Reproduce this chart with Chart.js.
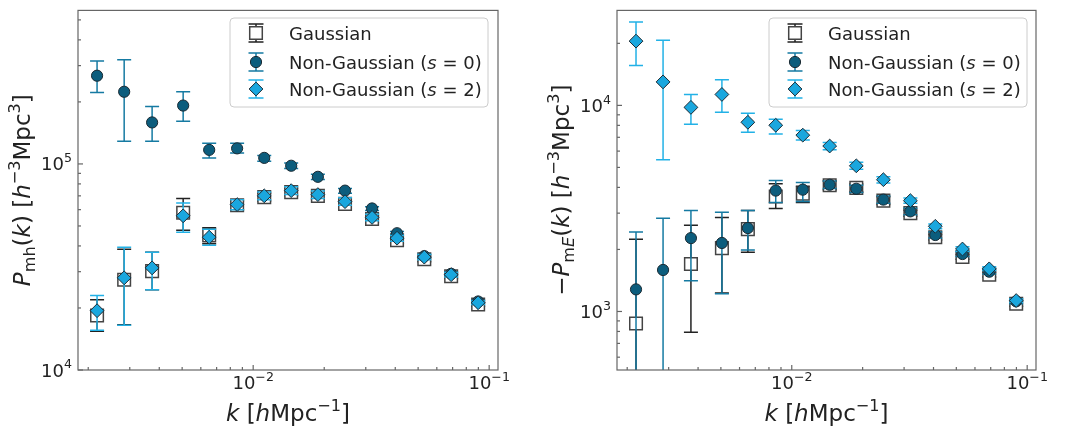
<!DOCTYPE html>
<html>
<head>
<meta charset="utf-8">
<script src="https://cdn.jsdelivr.net/npm/chart.js@4.4.1/dist/chart.umd.min.js"></script>
<style>
  html, body { margin: 0; padding: 0; background: #fff; }
  #wrap { position: relative; width: 1073px; height: 426px; }
  .panel { position: absolute; top: 0; height: 426px; }
</style>
</head>
<body>
<div id="wrap">
  <div class="panel" style="left:0;width:533px"><canvas id="pmh" width="533" height="426"></canvas></div>
  <div class="panel" style="left:533px;width:540px"><canvas id="pme" width="540" height="426"></canvas></div>
</div>
<script>
// wavenumbers k [h/Mpc], shared by both panels
const kValues = [0.00218, 0.00284, 0.00373, 0.00505, 0.00651, 0.00855, 0.01114, 0.01449, 0.0188, 0.0245, 0.0319, 0.0407, 0.0531, 0.069, 0.0898];

// left panel: P_mh(k)
const pmhGauss   = [1.84e4, 2.74e4, 3.02e4, 5.8e4, 4.5e4, 6.3e4, 6.9e4, 7.3e4, 7.0e4, 6.4e4, 5.4e4, 4.26e4, 3.45e4, 2.85e4, 2.08e4];
const pmhGaussLo = [1.54e4, 1.66e4, 2.45e4, 4.76e4, 4.1e4, 6.0e4, 6.6e4, 7.0e4, 6.75e4, 6.15e4, 5.2e4, 4.12e4, 3.35e4, 2.78e4, 2.04e4];
const pmhGaussHi = [2.19e4, 3.85e4, 3.73e4, 6.8e4, 4.9e4, 6.6e4, 7.2e4, 7.6e4, 7.3e4, 6.7e4, 5.6e4, 4.4e4, 3.55e4, 2.92e4, 2.12e4];

const pmhS0   = [2.68e5, 2.24e5, 1.59e5, 1.92e5, 1.17e5, 1.19e5, 1.07e5, 9.8e4, 8.66e4, 7.42e4, 6.08e4, 4.61e4, 3.57e4, 2.93e4, 2.15e4];
const pmhS0Lo = [2.22e5, 1.29e5, 1.29e5, 1.61e5, 1.07e5, 1.13e5, 1.03e5, 9.5e4, 8.4e4, 7.2e4, 5.95e4, 4.52e4, 3.5e4, 2.88e4, 2.12e4];
const pmhS0Hi = [3.16e5, 3.2e5, 1.9e5, 2.24e5, 1.26e5, 1.26e5, 1.10e5, 1.01e5, 8.9e4, 7.6e4, 6.2e4, 4.7e4, 3.64e4, 2.98e4, 2.18e4];

const pmhS2   = [1.94e4, 2.80e4, 3.13e4, 5.6e4, 4.41e4, 6.35e4, 7.0e4, 7.42e4, 7.1e4, 6.56e4, 5.5e4, 4.36e4, 3.53e4, 2.90e4, 2.12e4];
const pmhS2Lo = [1.56e4, 1.65e4, 2.45e4, 4.66e4, 4.03e4, 6.0e4, 6.7e4, 7.1e4, 6.8e4, 6.3e4, 5.3e4, 4.22e4, 3.43e4, 2.83e4, 2.08e4];
const pmhS2Hi = [2.30e4, 3.94e4, 3.73e4, 6.47e4, 4.82e4, 6.7e4, 7.3e4, 7.75e4, 7.4e4, 6.85e4, 5.7e4, 4.5e4, 3.63e4, 2.97e4, 2.16e4];

// right panel: -P_mE(k)
const pmeGauss   = [875, null, 1.70e3, 2.03e3, 2.51e3, 3.61e3, 3.73e3, 4.1e3, 3.98e3, 3.45e3, 3.0e3, 2.29e3, 1.84e3, 1.51e3, 1.09e3];
const pmeGaussLo = [100, null, 793, 1.23e3, 1.94e3, 3.16e3, 3.38e3, 3.9e3, 3.8e3, 3.3e3, 2.9e3, 2.22e3, 1.79e3, 1.47e3, 1.06e3];
const pmeGaussHi = [2.24e3, null, 2.62e3, 2.86e3, 3.09e3, 4.17e3, 4.05e3, 4.3e3, 4.15e3, 3.6e3, 3.1e3, 2.36e3, 1.89e3, 1.55e3, 1.12e3];

const pmeS0   = [1.28e3, 1.59e3, 2.27e3, 2.15e3, 2.54e3, 3.86e3, 3.90e3, 4.12e3, 3.94e3, 3.49e3, 3.06e3, 2.35e3, 1.90e3, 1.56e3, 1.12e3];
const pmeS0Lo = [100, 100, 1.41e3, 1.22e3, 1.99e3, 3.38e3, 3.42e3, 3.95e3, 3.78e3, 3.35e3, 2.95e3, 2.27e3, 1.85e3, 1.52e3, 1.09e3];
const pmeS0Hi = [2.43e3, 2.83e3, 3.09e3, 3.03e3, 3.09e3, 4.32e3, 4.22e3, 4.3e3, 4.1e3, 3.63e3, 3.17e3, 2.43e3, 1.95e3, 1.60e3, 1.15e3];

const pmeS2   = [2.05e4, 1.30e4, 9.78e3, 1.13e4, 8.28e3, 8.01e3, 7.17e3, 6.35e3, 5.09e3, 4.36e3, 3.45e3, 2.59e3, 2.01e3, 1.61e3, 1.13e3];
const pmeS2Lo = [1.56e4, 5.45e3, 8.1e3, 9.25e3, 7.41e3, 7.26e3, 6.8e3, 6.1e3, 4.9e3, 4.2e3, 3.35e3, 2.52e3, 1.96e3, 1.58e3, 1.11e3];
const pmeS2Hi = [2.54e4, 2.07e4, 1.13e4, 1.33e4, 9.15e3, 8.57e3, 7.55e3, 6.6e3, 5.3e3, 4.5e3, 3.55e3, 2.66e3, 2.06e3, 1.65e3, 1.15e3];

const seriesNames = ['Gaussian', 'Non-Gaussian (s = 0)', 'Non-Gaussian (s = 2)'];

const FONT = "'DejaVu Sans', sans-serif";
const TEXT = '#222';
const AXIS = '#666';

const styles = [
  { pointStyle: 'rect', radius: 8.9, fill: '#ffffff', edge: '#444', edgeW: 1.5, err: '#222' },
  { pointStyle: 'circle', radius: 5.6, fill: '#0c5d7d', edge: '#1a2a33', edgeW: 1, err: '#157aa2' },
  { pointStyle: 'rectRot', radius: 6.9, fill: '#1aa7de', edge: '#1d2a33', edgeW: 1, err: '#22b1e6' }
];

function points(vals, lo, hi) {
  const out = [];
  kValues.forEach((k, i) => {
    if (vals[i] == null) return;
    out.push({ x: k, y: vals[i], lo: lo[i], hi: hi[i] });
  });
  return out;
}

function powSegs(v) {
  const e = Math.round(Math.log10(v));
  return [{ t: '10' }, { t: String(e).replace('-', '−'), sup: true }];
}

function drawMarker(ctx, st, x, y) {
  const r = st.radius;
  ctx.beginPath();
  if (st.pointStyle === 'circle') {
    ctx.arc(x, y, r, 0, Math.PI * 2);
  } else if (st.pointStyle === 'rect') {
    const s = r * Math.SQRT1_2;
    ctx.rect(x - s, y - s, 2 * s, 2 * s);
  } else {
    ctx.moveTo(x, y - r); ctx.lineTo(x + r, y); ctx.lineTo(x, y + r); ctx.lineTo(x - r, y); ctx.closePath();
  }
  ctx.fillStyle = st.fill; ctx.fill();
  ctx.lineWidth = st.edgeW; ctx.strokeStyle = st.edge; ctx.stroke();
}

function drawErr(ctx, color, x, y1, y2, cap) {
  ctx.strokeStyle = color;
  ctx.lineWidth = 1.5;
  ctx.beginPath();
  ctx.moveTo(x, y1); ctx.lineTo(x, y2);
  ctx.moveTo(x - cap, y1); ctx.lineTo(x + cap, y1);
  ctx.moveTo(x - cap, y2); ctx.lineTo(x + cap, y2);
  ctx.stroke();
}

// text with italic / sub / superscript parts
function segFont(s, size) {
  const fs = (s.sub || s.sup) ? size * 0.7 : size;
  return (s.it ? 'italic ' : '') + fs + 'px ' + FONT;
}
function richWidth(ctx, segs, size) {
  let w = 0;
  segs.forEach(s => { ctx.font = segFont(s, size); w += ctx.measureText(s.t).width; });
  return w;
}
function drawRich(ctx, segs, x, y, size, align, supRise) {
  const w = richWidth(ctx, segs, size);
  let cx = align === 'center' ? x - w / 2 : align === 'right' ? x - w : x;
  ctx.textBaseline = 'alphabetic';
  ctx.textAlign = 'left';
  ctx.fillStyle = TEXT;
  segs.forEach(s => {
    ctx.font = segFont(s, size);
    const dy = s.sub ? size * 0.22 : s.sup ? -size * (supRise || 0.42) : 0;
    ctx.fillText(s.t, cx, y + dy);
    cx += ctx.measureText(s.t).width;
  });
}

const legendText = [
  [{ t: 'Gaussian' }],
  [{ t: 'Non-Gaussian (' }, { t: 's', it: true }, { t: ' = 0)' }],
  [{ t: 'Non-Gaussian (' }, { t: 's', it: true }, { t: ' = 2)' }]
];

const errorBars = {
  id: 'errorBars',
  beforeDatasetDraw(chart, args) {
    const ds = chart.data.datasets[args.index];
    const ys = chart.scales.y;
    const a = chart.chartArea;
    const ctx = chart.ctx;
    ctx.save();
    ctx.beginPath();
    ctx.rect(a.left, a.top, a.right - a.left, a.bottom - a.top);
    ctx.clip();
    args.meta.data.forEach((pt, i) => {
      const d = ds.data[i];
      if (d.lo == null) return;
      drawErr(ctx, ds.errColor, pt.x, ys.getPixelForValue(d.lo), ys.getPixelForValue(d.hi), 7);
    });
    ctx.restore();
  }
};

const frame = {
  id: 'frame',
  afterDatasetsDraw(chart, args, opts) {
    const ctx = chart.ctx;
    const a = chart.chartArea;
    ctx.save();
    ctx.strokeStyle = AXIS;
    ctx.lineWidth = 1.2;
    ctx.strokeRect(a.left, a.top, a.right - a.left, a.bottom - a.top);
    // inward ticks, left and bottom only
    ['x', 'y'].forEach(id => {
      const sc = chart.scales[id];
      const lo = Math.floor(Math.log10(sc.min)), hi = Math.ceil(Math.log10(sc.max));
      for (let e = lo; e <= hi; e++) {
        for (let m = 1; m <= 9; m++) {
          const v = m * Math.pow(10, e);
          if (v < sc.min * 0.999 || v > sc.max * 1.001) continue;
          const len = m === 1 ? 5 : 3;
          const p = sc.getPixelForValue(v);
          ctx.beginPath();
          if (id === 'x') { ctx.moveTo(p, a.bottom); ctx.lineTo(p, a.bottom - len); }
          else { ctx.moveTo(a.left, p); ctx.lineTo(a.left + len, p); }
          ctx.stroke();
        }
      }
    });
    // tick labels at the scale's own ticks
    chart.scales.x.ticks.forEach(t => {
      drawRich(ctx, powSegs(t.value), chart.scales.x.getPixelForValue(t.value), a.bottom + 19, 18, 'center', 0.45);
    });
    chart.scales.y.ticks.forEach(t => {
      drawRich(ctx, powSegs(t.value), a.left - 6, chart.scales.y.getPixelForValue(t.value) + 6.5, 18, 'right', 0.45);
    });
    // legend
    const b = opts.box;
    ctx.beginPath();
    ctx.roundRect(b.x, b.y, b.w, b.h, 4);
    ctx.fillStyle = 'rgba(255,255,255,0.85)';
    ctx.fill();
    ctx.strokeStyle = '#ccc';
    ctx.lineWidth = 1;
    ctx.stroke();
    const rows = [b.y + 15, b.y + 44, b.y + 71];
    styles.forEach((st, i) => {
      const gx = b.x + 26, gy = rows[i];
      drawErr(ctx, st.err, gx, gy - 9, gy + 9, 7.5);
      drawMarker(ctx, st, gx, gy);
      drawRich(ctx, legendText[i], b.x + 59, gy + 6.5, 18, 'left');
    });
    ctx.restore();
  },
  afterDraw(chart, args, opts) {
    const ctx = chart.ctx;
    const a = chart.chartArea;
    ctx.save();
    drawRich(ctx, [{ t: 'k', it: true }, { t: ' [' }, { t: 'h', it: true }, { t: 'Mpc' }, { t: '−1', sup: true }, { t: ']' }],
      (a.left + a.right) / 2, 421, 23, 'center');
    ctx.translate(opts.yTitleX, (a.top + a.bottom) / 2);
    ctx.rotate(-Math.PI / 2);
    drawRich(ctx, opts.yTitle, 0, 0, 23, 'center');
    ctx.restore();
  }
};

function makeChart(canvasId, series, yMin, yMax, yTicks, yWidth, padRight, box, yTitle, yTitleX) {
  const datasets = series.map((s, i) => ({
    label: seriesNames[i],
    data: s,
    order: 3 - i,
    showLine: false,
    pointStyle: styles[i].pointStyle,
    pointRadius: styles[i].radius,
    pointBackgroundColor: styles[i].fill,
    pointBorderColor: styles[i].edge,
    pointBorderWidth: styles[i].edgeW,
    errColor: styles[i].err
  }));
  return new Chart(document.getElementById(canvasId), {
    type: 'scatter',
    data: { datasets: datasets },
    options: {
      responsive: false,
      animation: false,
      events: [],
      layout: { padding: { top: 7, right: padRight, left: 0, bottom: 0 } },
      plugins: {
        legend: { display: false },
        tooltip: { enabled: false },
        frame: { box: box, yTitle: yTitle, yTitleX: yTitleX }
      },
      scales: {
        x: {
          type: 'logarithmic',
          min: 1.81e-3, max: 0.109,
          grid: { display: false },
          border: { display: false },
          afterBuildTicks: sc => { sc.ticks = [{ value: 0.01 }, { value: 0.1 }]; },
          afterFit: sc => { sc.height = 56; },
          ticks: { display: false }
        },
        y: {
          type: 'logarithmic',
          min: yMin, max: yMax,
          grid: { display: false },
          border: { display: false },
          afterBuildTicks: sc => { sc.ticks = yTicks.map(v => ({ value: v })); },
          afterFit: sc => { sc.width = yWidth; },
          ticks: { display: false }
        }
      }
    },
    plugins: [errorBars, frame]
  });
}

makeChart('pmh',
  [points(pmhGauss, pmhGaussLo, pmhGaussHi), points(pmhS0, pmhS0Lo, pmhS0Hi), points(pmhS2, pmhS2Lo, pmhS2Hi)],
  1e4, 5.56e5, [1e4, 1e5], 78, 35,
  { x: 230, y: 18, w: 258, h: 89 },
  [{ t: 'P', it: true }, { t: 'mh', sub: true }, { t: '(' }, { t: 'k', it: true }, { t: ') [' }, { t: 'h', it: true }, { t: '−3', sup: true }, { t: 'Mpc' }, { t: '3', sup: true }, { t: ']' }],
  30);

makeChart('pme',
  [points(pmeGauss, pmeGaussLo, pmeGaussHi), points(pmeS0, pmeS0Lo, pmeS0Hi), points(pmeS2, pmeS2Lo, pmeS2Hi)],
  520, 2.89e4, [1e3, 1e4], 84, 37,
  { x: 236, y: 18, w: 258, h: 89 },
  [{ t: '−' }, { t: 'P', it: true }, { t: 'm', sub: true }, { t: 'E', sub: true, it: true }, { t: '(' }, { t: 'k', it: true }, { t: ') [' }, { t: 'h', it: true }, { t: '−3', sup: true }, { t: 'Mpc' }, { t: '3', sup: true }, { t: ']' }],
  36);
</script>
</body>
</html>
